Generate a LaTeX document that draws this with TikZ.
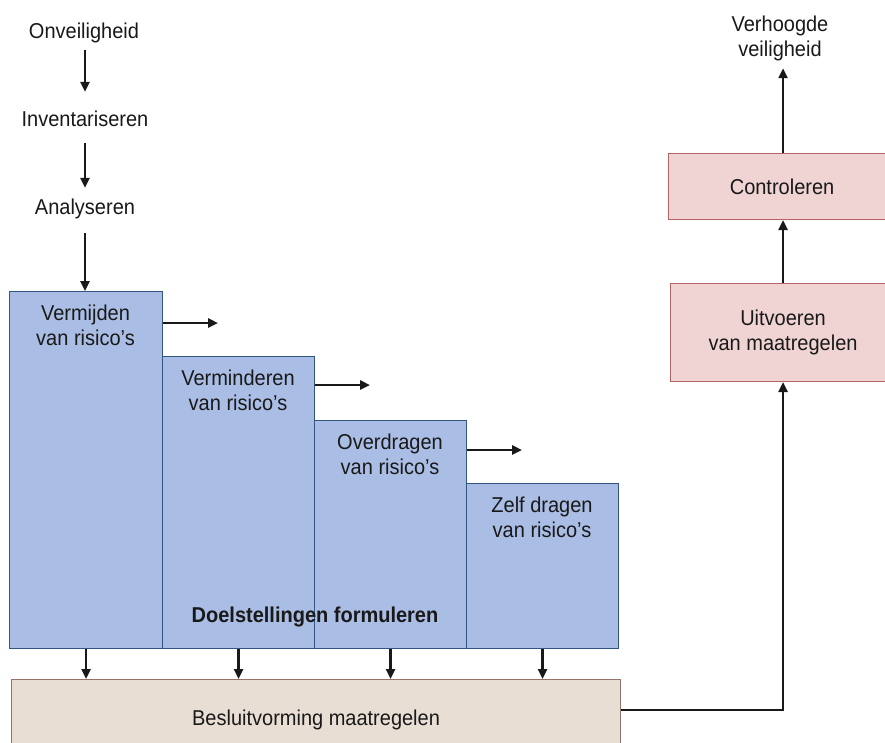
\documentclass[tikz,border=0pt]{standalone}
\usepackage{fontspec}
\setmainfont{Liberation Sans}[FakeStretch=0.93]
\usetikzlibrary{arrows.meta}
\definecolor{boxblue}{RGB}{170,189,228}
\definecolor{blueedge}{RGB}{50,85,130}
\definecolor{beigefill}{RGB}{232,222,212}
\definecolor{beigeedge}{RGB}{150,115,100}
\definecolor{pinkfill}{RGB}{240,212,212}
\definecolor{pinkedge}{RGB}{180,100,100}
\definecolor{ink}{RGB}{25,25,25}
\begin{document}
\begin{tikzpicture}[x=1pt,y=-1pt,
  every node/.style={font=\fontsize{21.5}{25}\selectfont, text=ink, inner sep=0pt},
  arr/.style={draw=ink, line width=2.4pt, -{Triangle[length=10pt,width=9pt]}},
  bluebox/.style={draw=blueedge, line width=1.1pt, fill=boxblue, anchor=north west},
  beigebox/.style={draw=beigeedge, line width=1.1pt, fill=beigefill, anchor=north west},
  pinkbox/.style={draw=pinkedge, line width=1.1pt, fill=pinkfill, anchor=north west},
  steplbl/.style={text height=15pt, text depth=5pt, anchor=base},
  boxlbl/.style={anchor=base}
]
\useasboundingbox (0,0) rectangle (885,742);
\clip (0,0) rectangle (885,742);

% left column
\node[steplbl] (onv) at (84,38) {Onveiligheid};
\node[steplbl] (inv) at (85,126) {Inventariseren};
\node[steplbl] (ana) at (85,214) {Analyseren};

% blue staircase
\node[bluebox, minimum width=153pt, minimum height=357pt] (b1) at (9,291) {};
\node[bluebox, minimum width=152pt, minimum height=292pt] (b2) at (162,356) {};
\node[bluebox, minimum width=152pt, minimum height=228pt] (b3) at (314,420) {};
\node[bluebox, minimum width=152pt, minimum height=165pt] (b4) at (466,483) {};

\node[boxlbl] (t1) at (85.5,320) {\begin{tabular}[t]{@{}c@{}}Vermijden\\van risico’s\end{tabular}};
\node[boxlbl] (t2) at (238,385) {\begin{tabular}[t]{@{}c@{}}Verminderen\\van risico’s\end{tabular}};
\node[boxlbl] (t3) at (390,449) {\begin{tabular}[t]{@{}c@{}}Overdragen\\van risico’s\end{tabular}};
\node[boxlbl] (t4) at (542,512) {\begin{tabular}[t]{@{}c@{}}Zelf dragen\\van risico’s\end{tabular}};
\node[anchor=base, font=\fontsize{21.5}{25}\selectfont\bfseries] (doel) at (315,622) {Doelstellingen formuleren};

% bottom box
\node[beigebox, minimum width=609pt, minimum height=81pt] (bes) at (11,679) {Besluitvorming maatregelen};

% right column
\node[pinkbox, minimum width=225pt, minimum height=98pt] (uit) at (670,283) {\begin{tabular}{@{}c@{}}Uitvoeren\\van maatregelen\end{tabular}};
\node[pinkbox, minimum width=227pt, minimum height=66pt] (con) at (668,153) {Controleren};
\node[boxlbl] (ver) at (780,31) {\begin{tabular}[t]{@{}c@{}}Verhoogde\\veiligheid\end{tabular}};

% connectors
\draw[arr, shorten <=7pt, shorten >=19pt] (onv.south -| inv) -- (inv);
\draw[arr, shorten <=12pt, shorten >=11pt] (inv) -- (ana);
\draw[arr, shorten <=14pt] (ana) -- (ana |- b1.north);

\coordinate (h1) at (218,323);
\coordinate (h2) at (370,385);
\coordinate (h3) at (522,450);
\draw[arr] (b1.east |- h1) -- (h1);
\draw[arr] (b2.east |- h2) -- (h2);
\draw[arr] (b3.east |- h3) -- (h3);

\draw[arr] (b1.south) -- (b1.south |- bes.north);
\draw[arr] (b2.south) -- (b2.south |- bes.north);
\draw[arr] (b3.south) -- (b3.south |- bes.north);
\draw[arr] (b4.south) -- (b4.south |- bes.north);

\coordinate (corner) at (uit.south |- 0,710);
\draw[arr] (bes.east |- corner) -- (corner) -- (uit.south);
\draw[arr] (uit.north) -- (uit.north |- con.south);
\draw[arr, shorten >=4.5pt] (con.north -| uit.north) -- (uit.north |- ver.south);
\end{tikzpicture}
\end{document}
